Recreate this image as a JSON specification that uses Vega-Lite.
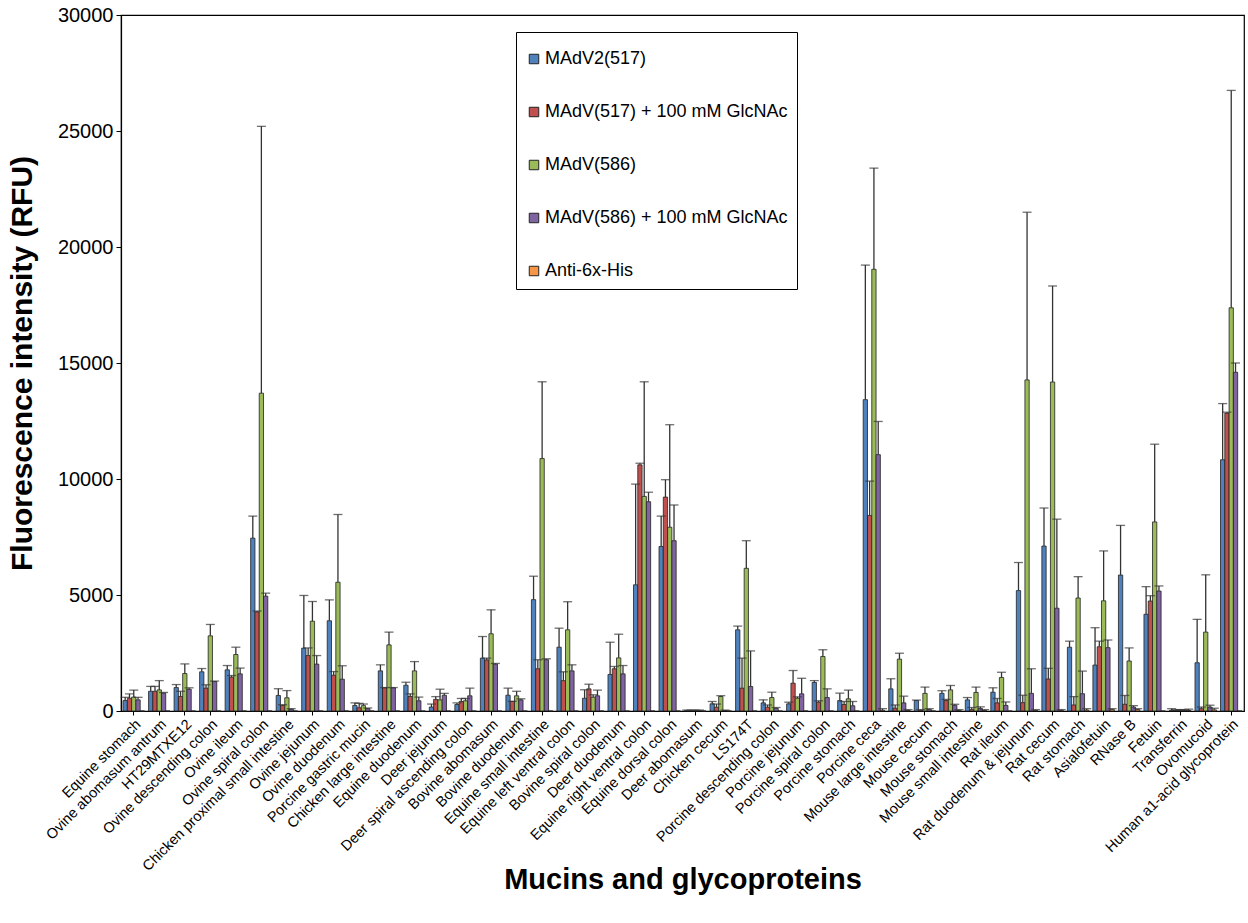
{
"$schema": "https://vega.github.io/schema/vega-lite/v6.json",
"width": 1123, "height": 696,
"autosize": "none",
"padding": {"left": 121, "top": 15, "right": 4, "bottom": 212},
"background": "white",
"config": {"view": {"stroke": "#000", "strokeWidth": 1.2}, "font": "Liberation Sans"},
"data": {"values": [
{"c":"Equine stomach","s":"MAdV2(517)","v":450,"hi":590},
{"c":"Equine stomach","s":"MAdV(517) + 100 mM GlcNAc","v":550,"hi":740},
{"c":"Equine stomach","s":"MAdV(586)","v":600,"hi":900},
{"c":"Equine stomach","s":"MAdV(586) + 100 mM GlcNAc","v":480,"hi":590},
{"c":"Equine stomach","s":"Anti-6x-His","v":0,"hi":null},
{"c":"Ovine abomasum antrum","s":"MAdV2(517)","v":850,"hi":1060},
{"c":"Ovine abomasum antrum","s":"MAdV(517) + 100 mM GlcNAc","v":850,"hi":1060},
{"c":"Ovine abomasum antrum","s":"MAdV(586)","v":910,"hi":1310},
{"c":"Ovine abomasum antrum","s":"MAdV(586) + 100 mM GlcNAc","v":770,"hi":800},
{"c":"Ovine abomasum antrum","s":"Anti-6x-His","v":0,"hi":null},
{"c":"HT29MTXE12","s":"MAdV2(517)","v":1010,"hi":1140},
{"c":"HT29MTXE12","s":"MAdV(517) + 100 mM GlcNAc","v":625,"hi":850},
{"c":"HT29MTXE12","s":"MAdV(586)","v":1615,"hi":2030},
{"c":"HT29MTXE12","s":"MAdV(586) + 100 mM GlcNAc","v":940,"hi":1000},
{"c":"HT29MTXE12","s":"Anti-6x-His","v":0,"hi":null},
{"c":"Ovine descending colon","s":"MAdV2(517)","v":1690,"hi":1830},
{"c":"Ovine descending colon","s":"MAdV(517) + 100 mM GlcNAc","v":985,"hi":1130},
{"c":"Ovine descending colon","s":"MAdV(586)","v":3240,"hi":3730},
{"c":"Ovine descending colon","s":"MAdV(586) + 100 mM GlcNAc","v":1270,"hi":1290},
{"c":"Ovine descending colon","s":"Anti-6x-His","v":0,"hi":null},
{"c":"Ovine ileum","s":"MAdV2(517)","v":1775,"hi":1960},
{"c":"Ovine ileum","s":"MAdV(517) + 100 mM GlcNAc","v":1460,"hi":1530},
{"c":"Ovine ileum","s":"MAdV(586)","v":2435,"hi":2750},
{"c":"Ovine ileum","s":"MAdV(586) + 100 mM GlcNAc","v":1600,"hi":1850},
{"c":"Ovine ileum","s":"Anti-6x-His","v":0,"hi":null},
{"c":"Ovine spiral colon","s":"MAdV2(517)","v":7450,"hi":8400},
{"c":"Ovine spiral colon","s":"MAdV(517) + 100 mM GlcNAc","v":4270,"hi":4310},
{"c":"Ovine spiral colon","s":"MAdV(586)","v":13700,"hi":25200},
{"c":"Ovine spiral colon","s":"MAdV(586) + 100 mM GlcNAc","v":4950,"hi":5080},
{"c":"Ovine spiral colon","s":"Anti-6x-His","v":0,"hi":null},
{"c":"Chicken proximal small intestine","s":"MAdV2(517)","v":670,"hi":960},
{"c":"Chicken proximal small intestine","s":"MAdV(517) + 100 mM GlcNAc","v":240,"hi":270},
{"c":"Chicken proximal small intestine","s":"MAdV(586)","v":570,"hi":880},
{"c":"Chicken proximal small intestine","s":"MAdV(586) + 100 mM GlcNAc","v":80,"hi":100},
{"c":"Chicken proximal small intestine","s":"Anti-6x-His","v":0,"hi":null},
{"c":"Ovine jejunum","s":"MAdV2(517)","v":2710,"hi":4980},
{"c":"Ovine jejunum","s":"MAdV(517) + 100 mM GlcNAc","v":2390,"hi":2720},
{"c":"Ovine jejunum","s":"MAdV(586)","v":3870,"hi":4720},
{"c":"Ovine jejunum","s":"MAdV(586) + 100 mM GlcNAc","v":2020,"hi":2390},
{"c":"Ovine jejunum","s":"Anti-6x-His","v":0,"hi":null},
{"c":"Ovine duodenum","s":"MAdV2(517)","v":3890,"hi":4790},
{"c":"Ovine duodenum","s":"MAdV(517) + 100 mM GlcNAc","v":1545,"hi":1700},
{"c":"Ovine duodenum","s":"MAdV(586)","v":5550,"hi":8470},
{"c":"Ovine duodenum","s":"MAdV(586) + 100 mM GlcNAc","v":1370,"hi":1950},
{"c":"Ovine duodenum","s":"Anti-6x-His","v":0,"hi":null},
{"c":"Porcine gastric mucin","s":"MAdV2(517)","v":240,"hi":350},
{"c":"Porcine gastric mucin","s":"MAdV(517) + 100 mM GlcNAc","v":140,"hi":330},
{"c":"Porcine gastric mucin","s":"MAdV(586)","v":230,"hi":300},
{"c":"Porcine gastric mucin","s":"MAdV(586) + 100 mM GlcNAc","v":100,"hi":130},
{"c":"Porcine gastric mucin","s":"Anti-6x-His","v":0,"hi":null},
{"c":"Chicken large intestine","s":"MAdV2(517)","v":1730,"hi":1990},
{"c":"Chicken large intestine","s":"MAdV(517) + 100 mM GlcNAc","v":1000,"hi":1010},
{"c":"Chicken large intestine","s":"MAdV(586)","v":2850,"hi":3400},
{"c":"Chicken large intestine","s":"MAdV(586) + 100 mM GlcNAc","v":1000,"hi":1010},
{"c":"Chicken large intestine","s":"Anti-6x-His","v":0,"hi":null},
{"c":"Equine duodenum","s":"MAdV2(517)","v":1110,"hi":1240},
{"c":"Equine duodenum","s":"MAdV(517) + 100 mM GlcNAc","v":625,"hi":740},
{"c":"Equine duodenum","s":"MAdV(586)","v":1730,"hi":2130},
{"c":"Equine duodenum","s":"MAdV(586) + 100 mM GlcNAc","v":440,"hi":600},
{"c":"Equine duodenum","s":"Anti-6x-His","v":0,"hi":null},
{"c":"Deer jejunum","s":"MAdV2(517)","v":170,"hi":300},
{"c":"Deer jejunum","s":"MAdV(517) + 100 mM GlcNAc","v":500,"hi":620},
{"c":"Deer jejunum","s":"MAdV(586)","v":480,"hi":940},
{"c":"Deer jejunum","s":"MAdV(586) + 100 mM GlcNAc","v":680,"hi":760},
{"c":"Deer jejunum","s":"Anti-6x-His","v":0,"hi":null},
{"c":"Deer spiral ascending colon","s":"MAdV2(517)","v":280,"hi":350},
{"c":"Deer spiral ascending colon","s":"MAdV(517) + 100 mM GlcNAc","v":410,"hi":540},
{"c":"Deer spiral ascending colon","s":"MAdV(586)","v":440,"hi":540},
{"c":"Deer spiral ascending colon","s":"MAdV(586) + 100 mM GlcNAc","v":655,"hi":985},
{"c":"Deer spiral ascending colon","s":"Anti-6x-His","v":0,"hi":null},
{"c":"Bovine abomasum","s":"MAdV2(517)","v":2280,"hi":3210},
{"c":"Bovine abomasum","s":"MAdV(517) + 100 mM GlcNAc","v":2200,"hi":2280},
{"c":"Bovine abomasum","s":"MAdV(586)","v":3330,"hi":4360},
{"c":"Bovine abomasum","s":"MAdV(586) + 100 mM GlcNAc","v":2020,"hi":2050},
{"c":"Bovine abomasum","s":"Anti-6x-His","v":0,"hi":null},
{"c":"Bovine duodenum","s":"MAdV2(517)","v":680,"hi":985},
{"c":"Bovine duodenum","s":"MAdV(517) + 100 mM GlcNAc","v":410,"hi":420},
{"c":"Bovine duodenum","s":"MAdV(586)","v":655,"hi":850},
{"c":"Bovine duodenum","s":"MAdV(586) + 100 mM GlcNAc","v":480,"hi":525},
{"c":"Bovine duodenum","s":"Anti-6x-His","v":0,"hi":null},
{"c":"Equine small intestine","s":"MAdV2(517)","v":4800,"hi":5810},
{"c":"Equine small intestine","s":"MAdV(517) + 100 mM GlcNAc","v":1820,"hi":2210},
{"c":"Equine small intestine","s":"MAdV(586)","v":10880,"hi":14190},
{"c":"Equine small intestine","s":"MAdV(586) + 100 mM GlcNAc","v":2210,"hi":2250},
{"c":"Equine small intestine","s":"Anti-6x-His","v":0,"hi":null},
{"c":"Equine left ventral colon","s":"MAdV2(517)","v":2750,"hi":3570},
{"c":"Equine left ventral colon","s":"MAdV(517) + 100 mM GlcNAc","v":1310,"hi":1690},
{"c":"Equine left ventral colon","s":"MAdV(586)","v":3500,"hi":4710},
{"c":"Equine left ventral colon","s":"MAdV(586) + 100 mM GlcNAc","v":1730,"hi":1990},
{"c":"Equine left ventral colon","s":"Anti-6x-His","v":0,"hi":null},
{"c":"Bovine spiral colon","s":"MAdV2(517)","v":550,"hi":915},
{"c":"Bovine spiral colon","s":"MAdV(517) + 100 mM GlcNAc","v":955,"hi":1155},
{"c":"Bovine spiral colon","s":"MAdV(586)","v":595,"hi":700},
{"c":"Bovine spiral colon","s":"MAdV(586) + 100 mM GlcNAc","v":655,"hi":900},
{"c":"Bovine spiral colon","s":"Anti-6x-His","v":0,"hi":null},
{"c":"Deer duodenum","s":"MAdV2(517)","v":1575,"hi":2965},
{"c":"Deer duodenum","s":"MAdV(517) + 100 mM GlcNAc","v":1820,"hi":1920},
{"c":"Deer duodenum","s":"MAdV(586)","v":2290,"hi":3310},
{"c":"Deer duodenum","s":"MAdV(586) + 100 mM GlcNAc","v":1600,"hi":1960},
{"c":"Deer duodenum","s":"Anti-6x-His","v":0,"hi":null},
{"c":"Equine right ventral colon","s":"MAdV2(517)","v":5440,"hi":9780},
{"c":"Equine right ventral colon","s":"MAdV(517) + 100 mM GlcNAc","v":10610,"hi":10680},
{"c":"Equine right ventral colon","s":"MAdV(586)","v":9250,"hi":14190},
{"c":"Equine right ventral colon","s":"MAdV(586) + 100 mM GlcNAc","v":9020,"hi":9430},
{"c":"Equine right ventral colon","s":"Anti-6x-His","v":0,"hi":null},
{"c":"Equine dorsal colon","s":"MAdV2(517)","v":7090,"hi":8400},
{"c":"Equine dorsal colon","s":"MAdV(517) + 100 mM GlcNAc","v":9220,"hi":9970},
{"c":"Equine dorsal colon","s":"MAdV(586)","v":7920,"hi":12340},
{"c":"Equine dorsal colon","s":"MAdV(586) + 100 mM GlcNAc","v":7340,"hi":8880},
{"c":"Equine dorsal colon","s":"Anti-6x-His","v":0,"hi":null},
{"c":"Deer abomasum","s":"MAdV2(517)","v":15,"hi":40},
{"c":"Deer abomasum","s":"MAdV(517) + 100 mM GlcNAc","v":15,"hi":40},
{"c":"Deer abomasum","s":"MAdV(586)","v":15,"hi":40},
{"c":"Deer abomasum","s":"MAdV(586) + 100 mM GlcNAc","v":15,"hi":40},
{"c":"Deer abomasum","s":"Anti-6x-His","v":0,"hi":null},
{"c":"Chicken cecum","s":"MAdV2(517)","v":310,"hi":410},
{"c":"Chicken cecum","s":"MAdV(517) + 100 mM GlcNAc","v":165,"hi":300},
{"c":"Chicken cecum","s":"MAdV(586)","v":625,"hi":660},
{"c":"Chicken cecum","s":"MAdV(586) + 100 mM GlcNAc","v":20,"hi":40},
{"c":"Chicken cecum","s":"Anti-6x-His","v":0,"hi":null},
{"c":"LS174T","s":"MAdV2(517)","v":3500,"hi":3660},
{"c":"LS174T","s":"MAdV(517) + 100 mM GlcNAc","v":985,"hi":2280},
{"c":"LS174T","s":"MAdV(586)","v":6150,"hi":7340},
{"c":"LS174T","s":"MAdV(586) + 100 mM GlcNAc","v":1055,"hi":2590},
{"c":"LS174T","s":"Anti-6x-His","v":0,"hi":null},
{"c":"Porcine descending colon","s":"MAdV2(517)","v":350,"hi":480},
{"c":"Porcine descending colon","s":"MAdV(517) + 100 mM GlcNAc","v":165,"hi":260},
{"c":"Porcine descending colon","s":"MAdV(586)","v":580,"hi":810},
{"c":"Porcine descending colon","s":"MAdV(586) + 100 mM GlcNAc","v":115,"hi":150},
{"c":"Porcine descending colon","s":"Anti-6x-His","v":0,"hi":null},
{"c":"Porcine jejunum","s":"MAdV2(517)","v":310,"hi":380},
{"c":"Porcine jejunum","s":"MAdV(517) + 100 mM GlcNAc","v":1200,"hi":1745},
{"c":"Porcine jejunum","s":"MAdV(586)","v":550,"hi":610},
{"c":"Porcine jejunum","s":"MAdV(586) + 100 mM GlcNAc","v":740,"hi":1410},
{"c":"Porcine jejunum","s":"Anti-6x-His","v":0,"hi":null},
{"c":"Porcine spiral colon","s":"MAdV2(517)","v":1230,"hi":1310},
{"c":"Porcine spiral colon","s":"MAdV(517) + 100 mM GlcNAc","v":380,"hi":440},
{"c":"Porcine spiral colon","s":"MAdV(586)","v":2350,"hi":2640},
{"c":"Porcine spiral colon","s":"MAdV(586) + 100 mM GlcNAc","v":580,"hi":955},
{"c":"Porcine spiral colon","s":"Anti-6x-His","v":0,"hi":null},
{"c":"Porcine stomach","s":"MAdV2(517)","v":450,"hi":770},
{"c":"Porcine stomach","s":"MAdV(517) + 100 mM GlcNAc","v":280,"hi":410},
{"c":"Porcine stomach","s":"MAdV(586)","v":525,"hi":900},
{"c":"Porcine stomach","s":"MAdV(586) + 100 mM GlcNAc","v":225,"hi":410},
{"c":"Porcine stomach","s":"Anti-6x-His","v":0,"hi":null},
{"c":"Porcine ceca","s":"MAdV2(517)","v":13420,"hi":19220},
{"c":"Porcine ceca","s":"MAdV(517) + 100 mM GlcNAc","v":8430,"hi":9910},
{"c":"Porcine ceca","s":"MAdV(586)","v":19040,"hi":23400},
{"c":"Porcine ceca","s":"MAdV(586) + 100 mM GlcNAc","v":11050,"hi":12480},
{"c":"Porcine ceca","s":"Anti-6x-His","v":30,"hi":100},
{"c":"Mouse large intestine","s":"MAdV2(517)","v":955,"hi":1390},
{"c":"Mouse large intestine","s":"MAdV(517) + 100 mM GlcNAc","v":120,"hi":260},
{"c":"Mouse large intestine","s":"MAdV(586)","v":2235,"hi":2490},
{"c":"Mouse large intestine","s":"MAdV(586) + 100 mM GlcNAc","v":350,"hi":640},
{"c":"Mouse large intestine","s":"Anti-6x-His","v":20,"hi":60},
{"c":"Mouse cecum","s":"MAdV2(517)","v":450,"hi":470},
{"c":"Mouse cecum","s":"MAdV(517) + 100 mM GlcNAc","v":30,"hi":60},
{"c":"Mouse cecum","s":"MAdV(586)","v":760,"hi":1030},
{"c":"Mouse cecum","s":"MAdV(586) + 100 mM GlcNAc","v":60,"hi":100},
{"c":"Mouse cecum","s":"Anti-6x-His","v":0,"hi":null},
{"c":"Mouse stomach","s":"MAdV2(517)","v":760,"hi":875},
{"c":"Mouse stomach","s":"MAdV(517) + 100 mM GlcNAc","v":450,"hi":500},
{"c":"Mouse stomach","s":"MAdV(586)","v":910,"hi":1100},
{"c":"Mouse stomach","s":"MAdV(586) + 100 mM GlcNAc","v":245,"hi":290},
{"c":"Mouse stomach","s":"Anti-6x-His","v":20,"hi":60},
{"c":"Mouse small intestine","s":"MAdV2(517)","v":480,"hi":580},
{"c":"Mouse small intestine","s":"MAdV(517) + 100 mM GlcNAc","v":60,"hi":150},
{"c":"Mouse small intestine","s":"MAdV(586)","v":800,"hi":1030},
{"c":"Mouse small intestine","s":"MAdV(586) + 100 mM GlcNAc","v":110,"hi":180},
{"c":"Mouse small intestine","s":"Anti-6x-His","v":20,"hi":60},
{"c":"Rat ileum","s":"MAdV2(517)","v":810,"hi":1000},
{"c":"Rat ileum","s":"MAdV(517) + 100 mM GlcNAc","v":350,"hi":540},
{"c":"Rat ileum","s":"MAdV(586)","v":1445,"hi":1670},
{"c":"Rat ileum","s":"MAdV(586) + 100 mM GlcNAc","v":240,"hi":390},
{"c":"Rat ileum","s":"Anti-6x-His","v":0,"hi":null},
{"c":"Rat duodenum & jejunum","s":"MAdV2(517)","v":5190,"hi":6400},
{"c":"Rat duodenum & jejunum","s":"MAdV(517) + 100 mM GlcNAc","v":360,"hi":680},
{"c":"Rat duodenum & jejunum","s":"MAdV(586)","v":14270,"hi":21500},
{"c":"Rat duodenum & jejunum","s":"MAdV(586) + 100 mM GlcNAc","v":760,"hi":1820},
{"c":"Rat duodenum & jejunum","s":"Anti-6x-His","v":20,"hi":60},
{"c":"Rat cecum","s":"MAdV2(517)","v":7110,"hi":8750},
{"c":"Rat cecum","s":"MAdV(517) + 100 mM GlcNAc","v":1380,"hi":1840},
{"c":"Rat cecum","s":"MAdV(586)","v":14180,"hi":18320},
{"c":"Rat cecum","s":"MAdV(586) + 100 mM GlcNAc","v":4430,"hi":8270},
{"c":"Rat cecum","s":"Anti-6x-His","v":30,"hi":60},
{"c":"Rat stomach","s":"MAdV2(517)","v":2750,"hi":3010},
{"c":"Rat stomach","s":"MAdV(517) + 100 mM GlcNAc","v":260,"hi":620},
{"c":"Rat stomach","s":"MAdV(586)","v":4870,"hi":5790},
{"c":"Rat stomach","s":"MAdV(586) + 100 mM GlcNAc","v":745,"hi":1720},
{"c":"Rat stomach","s":"Anti-6x-His","v":40,"hi":100},
{"c":"Asialofetuin","s":"MAdV2(517)","v":1980,"hi":3590},
{"c":"Asialofetuin","s":"MAdV(517) + 100 mM GlcNAc","v":2770,"hi":3010},
{"c":"Asialofetuin","s":"MAdV(586)","v":4750,"hi":6900},
{"c":"Asialofetuin","s":"MAdV(586) + 100 mM GlcNAc","v":2730,"hi":3060},
{"c":"Asialofetuin","s":"Anti-6x-His","v":60,"hi":100},
{"c":"RNase B","s":"MAdV2(517)","v":5860,"hi":8000},
{"c":"RNase B","s":"MAdV(517) + 100 mM GlcNAc","v":290,"hi":670},
{"c":"RNase B","s":"MAdV(586)","v":2155,"hi":2720},
{"c":"RNase B","s":"MAdV(586) + 100 mM GlcNAc","v":170,"hi":230},
{"c":"RNase B","s":"Anti-6x-His","v":60,"hi":100},
{"c":"Fetuin","s":"MAdV2(517)","v":4170,"hi":5360},
{"c":"Fetuin","s":"MAdV(517) + 100 mM GlcNAc","v":4740,"hi":4970},
{"c":"Fetuin","s":"MAdV(586)","v":8150,"hi":11500},
{"c":"Fetuin","s":"MAdV(586) + 100 mM GlcNAc","v":5170,"hi":5390},
{"c":"Fetuin","s":"Anti-6x-His","v":0,"hi":null},
{"c":"Transferrin","s":"MAdV2(517)","v":30,"hi":100},
{"c":"Transferrin","s":"MAdV(517) + 100 mM GlcNAc","v":20,"hi":60},
{"c":"Transferrin","s":"MAdV(586)","v":20,"hi":60},
{"c":"Transferrin","s":"MAdV(586) + 100 mM GlcNAc","v":20,"hi":60},
{"c":"Transferrin","s":"Anti-6x-His","v":20,"hi":80},
{"c":"Ovomucoid","s":"MAdV2(517)","v":2080,"hi":3950},
{"c":"Ovomucoid","s":"MAdV(517) + 100 mM GlcNAc","v":100,"hi":170},
{"c":"Ovomucoid","s":"MAdV(586)","v":3400,"hi":5870},
{"c":"Ovomucoid","s":"MAdV(586) + 100 mM GlcNAc","v":170,"hi":250},
{"c":"Ovomucoid","s":"Anti-6x-His","v":50,"hi":120},
{"c":"Human a1-acid glycoprotein","s":"MAdV2(517)","v":10830,"hi":13250},
{"c":"Human a1-acid glycoprotein","s":"MAdV(517) + 100 mM GlcNAc","v":12840,"hi":12880},
{"c":"Human a1-acid glycoprotein","s":"MAdV(586)","v":17380,"hi":26750},
{"c":"Human a1-acid glycoprotein","s":"MAdV(586) + 100 mM GlcNAc","v":14600,"hi":15000},
{"c":"Human a1-acid glycoprotein","s":"Anti-6x-His","v":0,"hi":null}
]},
"encoding": {
  "x": {"field": "c", "type": "nominal", "sort": null,
        "scale": {"paddingInner": 0.16, "paddingOuter": 0.08},
        "axis": {"title": "Mucins and glycoproteins", "titleFontSize": 29, "titleFontWeight": "bold", "titleColor": "#000",
                 "titleY": 154, "labelAngle": -45, "labelFontSize": 14.5, "labelColor": "#000", "labelLimit": 400,
                 "labelPadding": 2, "tickColor": "#000", "tickSize": 4, "domainColor": "#000", "domainWidth": 1.2}},
  "xOffset": {"field": "s", "type": "nominal",
        "scale": {"domain": ["MAdV2(517)", "MAdV(517) + 100 mM GlcNAc", "MAdV(586)", "MAdV(586) + 100 mM GlcNAc", "Anti-6x-His"], "paddingInner": 0, "paddingOuter": 0}}
},
"layer": [
  {"mark": {"type": "bar", "stroke": "#222", "strokeWidth": 0.8},
   "encoding": {
     "y": {"field": "v", "type": "quantitative", "title": "Fluorescence intensity (RFU)",
           "scale": {"domain": [0, 30000], "nice": false},
           "axis": {"values": [0, 5000, 10000, 15000, 20000, 25000, 30000], "format": "d", "grid": false,
                    "labelFontSize": 20, "labelColor": "#000", "labelPadding": 3, "tickColor": "#000", "tickSize": 5,
                    "domainColor": "#000", "domainWidth": 1.2, "titleFontSize": 30, "titleFontWeight": "bold",
                    "titleColor": "#000", "titleX": -99, "titleBaseline": "middle"}},
     "color": {"field": "s", "type": "nominal",
               "scale": {"domain": ["MAdV2(517)", "MAdV(517) + 100 mM GlcNAc", "MAdV(586)", "MAdV(586) + 100 mM GlcNAc", "Anti-6x-His"],
                         "range": ["#4F81BD", "#C0504D", "#9BBB59", "#8064A2", "#F79646"]},
               "legend": {"orient": "none", "legendX": 395, "legendY": 17, "title": " ", "titleFontSize": 9, "titlePadding": 0,
                          "labelFontSize": 18,
                          "labelColor": "#000", "symbolType": "square", "symbolSize": 90, "symbolStrokeColor": "#222",
                          "symbolStrokeWidth": 1, "symbolOpacity": 1, "rowPadding": 35, "padding": 9, "labelOffset": 2,
                          "strokeColor": "#000", "fillColor": "#fff", "labelLimit": 400}}
   }},
  {"transform": [{"filter": "datum.hi != null"}],
   "mark": {"type": "rule", "color": "#333", "strokeWidth": 1.3},
   "encoding": {"y": {"field": "v", "type": "quantitative", "title": "Fluorescence intensity (RFU)"}, "y2": {"field": "hi"}}},
  {"transform": [{"filter": "datum.hi != null"}],
   "mark": {"type": "tick", "color": "#333", "thickness": 1.3, "size": 9, "orient": "horizontal"},
   "encoding": {"y": {"field": "hi", "type": "quantitative", "title": "Fluorescence intensity (RFU)"}}}
]
}
